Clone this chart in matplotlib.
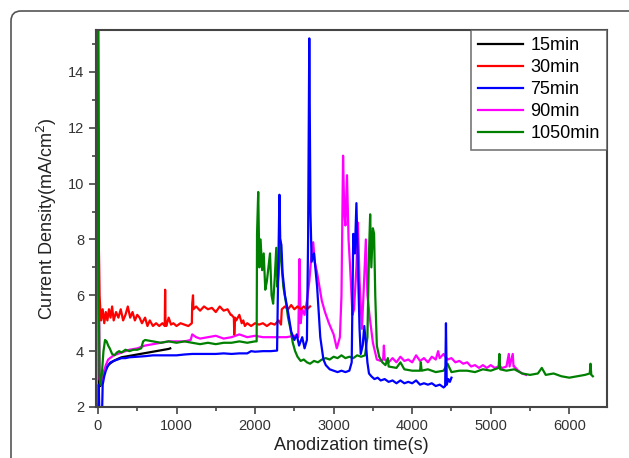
import matplotlib
matplotlib.use("Agg")
import matplotlib.pyplot as plt
from matplotlib.patches import FancyBboxPatch
from matplotlib.transforms import IdentityTransform
from matplotlib.ticker import MultipleLocator

plt.rcParams['font.family'] = ['Liberation Sans', 'DejaVu Sans']

labels = ["15min", "30min", "75min", "90min", "1050min"]
colors = ["#000000", "#ff0000", "#0000ff", "#ff00ff", "#008000"]

# 15min (black)
t15 = [0, 10, 30, 60, 100, 150, 200, 250, 300, 400, 500, 600, 700, 800, 900, 920]
j15 = [15.5, 2.8, 2.75, 3.15, 3.4, 3.55, 3.65, 3.72, 3.78, 3.83, 3.88, 3.93, 3.98, 4.03, 4.08, 4.1]

# 30min (red)
t30 = [0, 5, 10, 20, 30, 40, 60, 80, 100, 120, 140, 160, 180, 200, 230, 260, 290,
       320, 350, 380, 410, 440, 470, 500, 530, 560, 600, 630, 660, 700, 740, 780,
       820, 850, 855, 860, 870, 900, 930, 960, 1000, 1050, 1100, 1150, 1195, 1200,
       1210, 1215, 1250, 1300, 1350, 1400, 1450, 1500, 1550, 1600, 1650, 1690, 1700,
       1730, 1735, 1745, 1760, 1800, 1830, 1850, 1870, 1900, 1950, 2000, 2050, 2100,
       2150, 2200, 2250, 2300, 2330, 2340, 2380, 2420, 2460, 2500, 2540, 2580, 2620,
       2660, 2700]
j30 = [15.5, 12.3, 8.0, 6.0, 5.5, 5.1, 5.5, 5.0, 5.4, 5.1, 5.5, 5.2, 5.6, 5.1, 5.4,
       5.2, 5.5, 5.1, 5.3, 5.6, 5.2, 5.4, 5.1, 5.3, 5.2, 5.0, 5.2, 4.9, 5.1, 4.9, 5.0,
       4.9, 5.0, 4.9, 6.2, 5.0, 4.9, 5.2, 4.95, 5.0, 4.9, 5.0, 4.95, 4.9, 5.0, 5.7,
       6.0, 5.5, 5.6, 5.45, 5.6, 5.5, 5.55, 5.4, 5.6, 5.45, 5.5, 5.3, 5.3, 5.2, 4.6,
       5.2, 5.1, 5.3, 5.0, 5.1, 4.9, 5.0, 4.9, 5.0, 4.95, 5.0, 4.9, 5.0, 4.95, 5.1,
       4.95, 5.5, 5.6, 5.5, 5.65, 5.5, 5.6, 5.5, 5.6, 5.5, 5.6]

# 75min (blue)
t75 = [0, 10, 20, 30, 50, 60, 80, 100, 130, 160, 200, 250, 300, 350, 400, 500, 600,
       700, 800, 900, 1000, 1100, 1200, 1300, 1400, 1500, 1600, 1700, 1800, 1900,
       1950, 2000, 2100, 2200, 2280, 2290, 2310, 2320, 2335, 2350, 2380, 2420, 2460,
       2500, 2530, 2560, 2600, 2630, 2660, 2675, 2690, 2705, 2720, 2750, 2790, 2830,
       2870, 2900, 2950, 3000, 3050, 3100, 3150, 3200, 3230, 3250, 3270, 3290, 3310,
       3330, 3345, 3370, 3390, 3410, 3430, 3450, 3480, 3520, 3560, 3600, 3650, 3700,
       3750, 3800, 3850, 3900, 3950, 4000, 4050, 4100, 4150, 4200, 4250, 4300, 4350,
       4400, 4420, 4430, 4440, 4460, 4480, 4500]
j75 = [1.5, 2.8, 1.5, 2.0, 1.5, 2.8, 3.1, 3.3, 3.5, 3.6, 3.65, 3.7, 3.75, 3.75, 3.78,
       3.8, 3.82, 3.85, 3.85, 3.85, 3.85, 3.88, 3.9, 3.9, 3.9, 3.9, 3.92, 3.9, 3.92,
       3.92, 4.0, 3.98, 4.0, 4.0, 4.02, 6.0, 9.6, 8.0, 7.8, 6.8, 6.0, 5.4, 4.7, 4.4,
       4.6, 4.2, 4.5, 4.1, 4.4, 8.0, 15.2, 9.0, 7.2, 7.5, 6.3, 4.5, 3.7, 3.5, 3.35,
       3.3, 3.25, 3.3, 3.25, 3.3, 3.6, 8.2, 7.5, 9.3, 7.0, 4.8, 3.9, 4.2, 4.9, 4.3,
       3.6, 3.2, 3.1, 3.0, 3.05, 2.95, 3.0, 2.9, 2.95, 2.85, 2.95, 2.85, 2.9, 2.85,
       2.95, 2.8, 2.85, 2.8, 2.85, 2.75, 2.8, 2.7, 2.75, 5.0, 2.8, 3.0, 2.9, 3.05]

# 90min (magenta)
t90 = [5, 20, 40, 60, 100, 130, 200, 250, 300, 400, 500, 600, 700, 800, 900, 1000,
       1100, 1180, 1200, 1250, 1300, 1400, 1500, 1600, 1700, 1800, 1900, 2000, 2100,
       2200, 2300, 2400, 2500, 2550, 2565, 2580, 2600, 2630, 2660, 2690, 2720, 2740,
       2760, 2790, 2820, 2850, 2890, 2940, 3000, 3040, 3080, 3100, 3120, 3135, 3150,
       3170, 3190, 3210, 3240, 3260, 3290, 3310, 3330, 3360, 3380, 3410, 3430, 3460,
       3500, 3550, 3600, 3630, 3640, 3650, 3700, 3750, 3800, 3850, 3900, 3950, 4000,
       4050, 4100, 4150, 4200, 4250, 4300, 4330, 4350, 4400, 4450, 4500, 4550, 4600,
       4650, 4700, 4750, 4800, 4850, 4900, 4950, 5000, 5050, 5100, 5150, 5200, 5230,
       5240, 5280, 5290, 5300, 5350, 5400, 5450]
j90 = [12.0, 3.0, 2.8, 3.1, 3.5, 3.7, 3.85, 3.9, 3.95, 4.05, 4.1, 4.2, 4.25, 4.3,
       4.35, 4.35, 4.35, 4.4, 4.6, 4.5, 4.45, 4.5, 4.55, 4.45, 4.5, 4.6, 4.5, 4.55,
       4.5, 4.5, 4.5, 4.5, 4.55, 4.5, 7.3, 5.0, 5.5, 5.3, 5.8, 6.5, 7.5, 7.9, 7.2,
       6.8, 6.3, 5.8, 5.4, 5.0, 4.6, 4.1, 4.5, 6.0, 11.0, 9.0, 8.5, 10.3, 8.0, 7.0,
       5.3, 5.5, 7.0, 8.6, 6.5, 4.8, 6.0, 8.0, 6.0, 5.2, 4.3, 3.7, 3.65, 3.7, 4.2,
       3.7, 3.6, 3.75, 3.6, 3.8, 3.65, 3.7, 3.6, 3.85, 3.65, 3.75, 3.6, 3.8, 3.7,
       4.0, 3.75, 3.9, 3.7, 3.75, 3.6, 3.65, 3.55, 3.6, 3.45, 3.5, 3.4, 3.5, 3.4,
       3.5, 3.4, 3.45, 3.4, 3.45, 3.9, 3.45, 3.9, 3.45, 3.45, 3.3, 3.2, 3.15]

# 1050min (green)
t1050 = [0, 5, 10, 20, 30, 50, 70, 90, 110, 130, 150, 180, 210, 240, 270, 300, 350,
         400, 450, 500, 550, 575, 600, 700, 800, 900, 1000, 1100, 1200, 1300, 1400,
         1500, 1600, 1700, 1800, 1900, 2000, 2020, 2025, 2040, 2055, 2070, 2090, 2110,
         2130, 2150, 2170, 2190, 2210, 2230, 2250, 2270, 2285, 2300, 2320, 2340, 2360,
         2390, 2420, 2450, 2480, 2510, 2540, 2580, 2620, 2660, 2700, 2750, 2800, 2850,
         2900, 2950, 3000, 3050, 3100, 3150, 3200, 3250, 3300, 3350, 3400, 3430, 3450,
         3465, 3480, 3500, 3515, 3530, 3550, 3580, 3620, 3660, 3690, 3700, 3800, 3850,
         3900, 4000, 4100, 4110, 4120, 4200, 4300, 4400, 4450, 4500, 4600, 4700, 4800,
         4900, 5000, 5100, 5110, 5120, 5200, 5300, 5400, 5500, 5600, 5650, 5700, 5800,
         5900, 6000, 6100, 6200, 6260, 6270, 6280, 6300]
j1050 = [15.5, 15.5, 6.0, 3.2, 2.8, 3.2, 4.0, 4.4, 4.35, 4.2, 4.1, 3.9, 3.85, 3.95,
         4.0, 3.95, 4.05, 4.0, 4.05, 4.05, 4.1, 4.35, 4.4, 4.35, 4.3, 4.35, 4.3, 4.35,
         4.3, 4.25, 4.3, 4.25, 4.3, 4.3, 4.35, 4.3, 4.35, 4.35, 8.2, 9.7, 7.0, 8.0,
         6.9, 7.5, 6.2, 6.5, 7.0, 7.5, 6.0, 5.7, 6.6, 7.7, 6.3, 6.8, 8.0, 7.0, 6.3,
         5.8, 5.2, 4.8, 4.3, 4.0, 3.8, 3.65, 3.7, 3.6, 3.55, 3.65, 3.6, 3.7, 3.75, 3.7,
         3.8, 3.75, 3.85, 3.75, 3.8, 3.75, 3.85, 3.8, 3.85, 4.5, 7.5, 8.9, 7.0, 8.4,
         8.2, 6.0, 4.2, 3.8, 3.6, 3.5, 3.75, 3.45, 3.4, 3.6, 3.35, 3.3, 3.3, 3.6, 3.3,
         3.35, 3.25, 3.3, 3.55, 3.25, 3.3, 3.3, 3.25, 3.35, 3.3, 3.4, 3.9, 3.35, 3.3,
         3.35, 3.2, 3.15, 3.2, 3.4, 3.15, 3.2, 3.1, 3.05, 3.1, 3.15, 3.2, 3.55, 3.15,
         3.1]

fig = plt.figure(figsize=(6.29, 4.58), dpi=100)
ax = fig.add_axes([96 / 629, 1 - 407 / 458, 511 / 629, 377 / 458])

series = [(t15, j15, 0), (t90, j90, 3), (t30, j30, 1), (t1050, j1050, 4), (t75, j75, 2)]
handles = {}
for t, j, k in series:
    ln, = ax.plot(t, j, color=colors[k], lw=1.6, label=labels[k])
    handles[k] = ln

ax.set_xlim(-25, 6480)
ax.set_ylim(2, 15.5)
ax.xaxis.set_major_locator(MultipleLocator(1000))
ax.xaxis.set_minor_locator(MultipleLocator(500))
ax.yaxis.set_major_locator(MultipleLocator(2))
ax.yaxis.set_minor_locator(MultipleLocator(1))
ax.tick_params(which='both', direction='out', colors='#444444', width=1.2,
               labelsize=10.5, labelcolor='#333333')
ax.tick_params(which='major', length=5)
ax.tick_params(which='minor', length=3)
for s in ax.spines.values():
    s.set_color('#444444')
    s.set_linewidth(1.5)

ax.set_xlabel("Anodization time(s)", fontsize=13, color='#222222', labelpad=3)
ax.set_ylabel("Current Density(mA/cm$^2$)", fontsize=13, color='#222222', labelpad=6)

leg = ax.legend([handles[k] for k in range(5)], labels, loc='upper right',
                borderaxespad=0, fancybox=False, fontsize=13, handlelength=2.5,
                handletextpad=0.4, labelspacing=0.28, borderpad=0.4)
leg.get_frame().set_edgecolor('#555555')
leg.get_frame().set_linewidth(1.2)

frame = FancyBboxPatch((11, -30), 700, 458 - 11 + 30,
                       boxstyle="round,pad=0,rounding_size=10",
                       transform=IdentityTransform(), facecolor='none',
                       edgecolor='#555555', lw=1.2)
fig.add_artist(frame)

fig.savefig("out.png", dpi=100)
